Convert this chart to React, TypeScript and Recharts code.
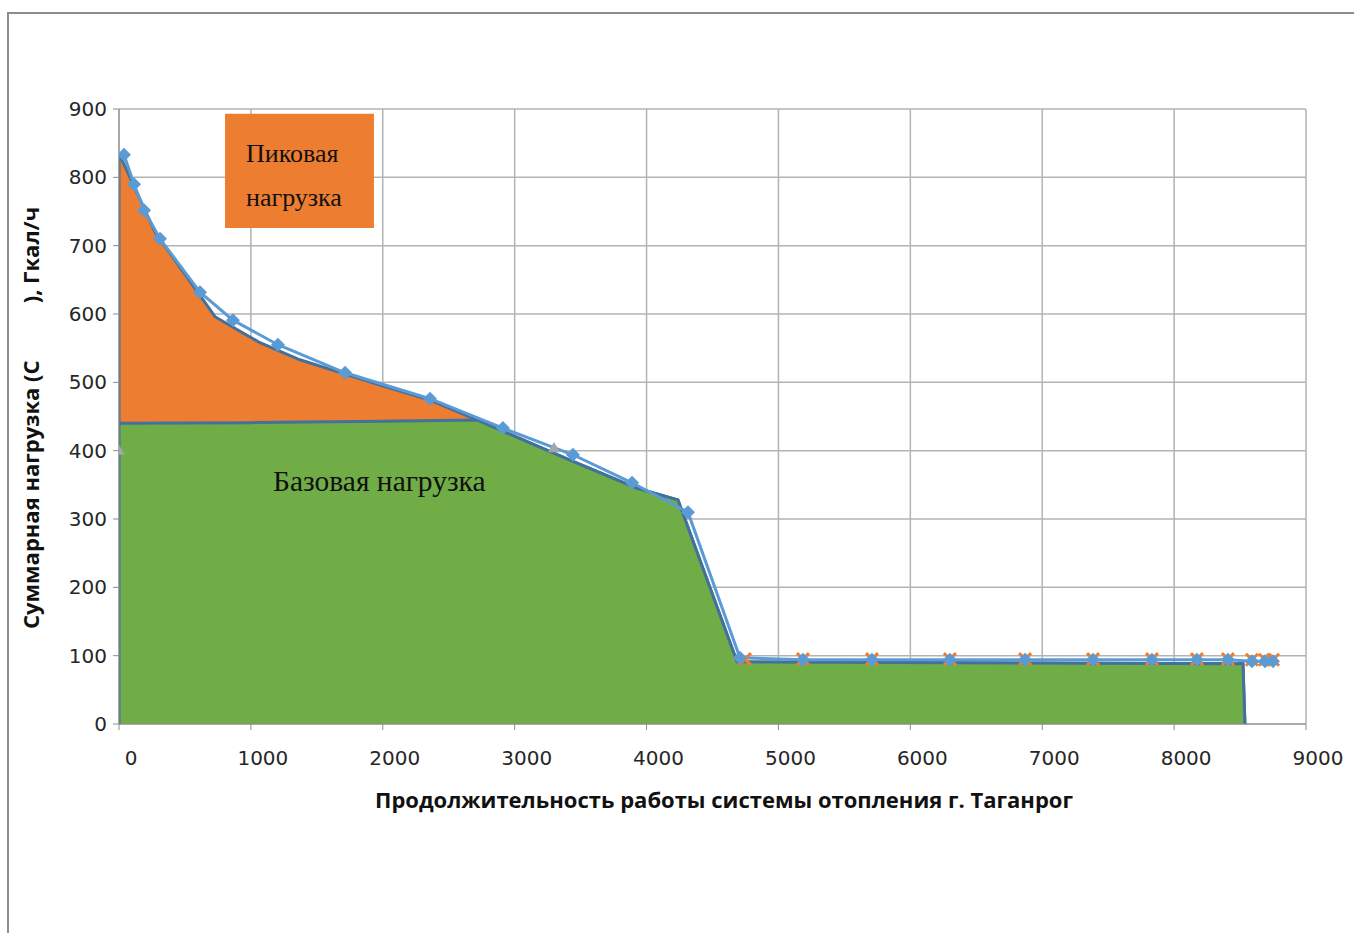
import React from 'react';
import {
  ComposedChart, Area, Line, Scatter, XAxis, YAxis, CartesianGrid, ReferenceArea
} from 'recharts';

// axis ticks
const hourTicks = [0, 1000, 2000, 3000, 4000, 5000, 6000, 7000, 8000, 9000];
const loadTicks = [0, 100, 200, 300, 400, 500, 600, 700, 800, 900];

// outline of total load (peak + base), hours -> Gcal/h
const totalHours = [0, 0, 273, 728, 1069, 1372, 1979, 2358, 2714, 3419, 3927, 4238, 4686, 8522, 8537];
const totalLoad = [0, 835, 720, 596, 558, 533, 496, 474, 445, 386, 345, 328, 91, 88, 0];

// outline of base load
const baseHours = [0, 0, 1000, 2000, 2714, 3419, 3927, 4238, 4686, 8522, 8537];
const baseLoad = [0, 440, 441, 443, 445, 386, 345, 328, 91, 88, 0];

// measured points (blue diamonds)
const measHours = [38, 114, 190, 311, 614, 864, 1205, 1714, 2358, 2911, 3442, 3890, 4314, 4708, 5186, 5709, 6300, 6870, 7385, 7832, 8173, 8408, 8590, 8689, 8750];
const measLoad = [833, 790, 752, 710, 632, 591, 555, 514, 476, 433, 394, 353, 310, 97, 94, 94, 94, 94, 94, 94, 94, 94, 92, 92, 92];

// summer load markers (orange)
const summerHours = [4746, 5186, 5709, 6300, 6870, 7385, 7832, 8173, 8408, 8590, 8689, 8750];
const summerLoad = [95, 95, 95, 95, 95, 95, 95, 95, 95, 94, 94, 94];

// grey markers
const greyHours = [0, 3298];
const greyLoad = [400, 404];

const zip = (xs: number[], ys: number[]) => xs.map((x, i) => ({ x, y: ys[i] }));

const totalData = zip(totalHours, totalLoad);
const baseData = zip(baseHours, baseLoad);
const measData = zip(measHours, measLoad);
const summerData = zip(summerHours, summerLoad);
const greyData = zip(greyHours, greyLoad);

const ORANGE = '#ED7D31';
const GREEN = '#70AD47';
const OUTLINE = '#41719C';
const BLUE = '#5B9BD5';

const Diamond = (p: any) => {
  const { cx, cy, index } = p;
  if (cx == null || cy == null) return <g key={`d-${index}`} />;
  const r = 7;
  return (
    <polygon
      key={`d-${index}`}
      points={`${cx},${cy - r} ${cx + r},${cy} ${cx},${cy + r} ${cx - r},${cy}`}
      fill={BLUE}
    />
  );
};

const XMark = (p: any) => {
  const { cx, cy } = p;
  const r = 6;
  return (
    <path
      d={`M${cx - r},${cy - r}L${cx + r},${cy + r}M${cx - r},${cy + r}L${cx + r},${cy - r}`}
      stroke={ORANGE}
      strokeWidth={3}
    />
  );
};

const Tri = (p: any) => {
  const { cx, cy } = p;
  const r = 6;
  return <polygon points={`${cx},${cy - r} ${cx + r},${cy + r * 0.7} ${cx - r},${cy + r * 0.7}`} fill="#A5A5A5" />;
};

const XTick = (p: any) => {
  const { x, y, payload } = p;
  return (
    <text x={x + 12} y={y} dy="0.71em" textAnchor="middle" fontFamily="DejaVu Sans" fontSize={20} fill="#262626">
      {payload.value}
    </text>
  );
};

const PeakLabel = (p: any) => {
  const { viewBox } = p;
  const x = viewBox.x + 21;
  const y = viewBox.y;
  return (
    <text fontFamily="Liberation Serif" fontSize={26} fill="#111">
      <tspan x={x} y={y + 48}>Пиковая</tspan>
      <tspan x={x} y={y + 92}>нагрузка</tspan>
    </text>
  );
};

const App: React.FC = () => {
  return (
    <div style={{ position: 'relative', width: 1354, height: 933, background: '#fff', overflow: 'hidden' }}>
      <style>{'body{margin:0}'}</style>
      {/* frame */}
      <div style={{ position: 'absolute', left: 7, top: 12, width: 1400, height: 1000, borderLeft: '2px solid #8c8c8c', borderTop: '2px solid #8c8c8c' }} />

      <div style={{ position: 'absolute', left: 0, top: 0 }}>
        <ComposedChart width={1354} height={933} margin={{ top: 109, right: 48, bottom: 179, left: 59 }}>
          <CartesianGrid stroke="#B3B3B3" strokeWidth={1.5} horizontalValues={loadTicks} verticalValues={hourTicks} />
          <XAxis
            type="number"
            dataKey="x"
            domain={[0, 9000]}
            ticks={hourTicks}
            height={30}
            allowDataOverflow
            stroke="#8c8c8c"
            tickSize={6}
            tickMargin={21}
            tick={<XTick />}
          />
          <YAxis
            type="number"
            dataKey="y"
            domain={[0, 900]}
            ticks={loadTicks}
            width={60}
            allowDataOverflow
            stroke="#8c8c8c"
            tickSize={6}
            tickMargin={6}
            tick={{ fontFamily: 'DejaVu Sans', fontSize: 20, fill: '#262626' }}
          />
          <ReferenceArea
            x1={804}
            x2={1933}
            y1={726}
            y2={893}
            fill={ORANGE}
            fillOpacity={1}
            stroke="none"
            ifOverflow="visible"
            label={<PeakLabel />}
          />
          <Area
            data={totalData}
            dataKey="y"
            type="linear"
            fill={ORANGE}
            fillOpacity={1}
            stroke={OUTLINE}
            strokeWidth={3}
            isAnimationActive={false}
          />
          <Area
            data={baseData}
            dataKey="y"
            type="linear"
            fill={GREEN}
            fillOpacity={1}
            stroke={OUTLINE}
            strokeWidth={3}
            isAnimationActive={false}
          />
          <Scatter data={greyData} dataKey="y" shape={<Tri />} isAnimationActive={false} />
          <Scatter data={summerData} dataKey="y" shape={<XMark />} isAnimationActive={false} />
          <Line
            data={measData}
            dataKey="y"
            type="linear"
            stroke={BLUE}
            strokeWidth={3}
            dot={Diamond}
            activeDot={false}
            isAnimationActive={false}
          />
        </ComposedChart>
      </div>

      {/* base load annotation */}
      <div style={{ position: 'absolute', left: 273, top: 464, fontFamily: 'Liberation Serif', fontSize: 29.5, lineHeight: '34px', color: '#111', whiteSpace: 'nowrap' }}>
        Базовая нагрузка
      </div>

      {/* axis titles */}
      <div style={{ position: 'absolute', left: 724, top: 799, transform: 'translate(-50%, -50%)', fontFamily: 'Open Sans', fontWeight: 700, fontSize: 22, color: '#111', whiteSpace: 'nowrap' }}>
        Продолжительность работы системы отопления г. Таганрог
      </div>
      <div style={{ position: 'absolute', left: 30, top: 418, transform: 'translate(-50%, -50%) rotate(-90deg)', fontFamily: 'Open Sans', fontWeight: 700, fontSize: 22, color: '#111', whiteSpace: 'pre' }}>
        {'Суммарная нагрузка (С          ), Гкал/ч'}
      </div>
    </div>
  );
};

export default App;
